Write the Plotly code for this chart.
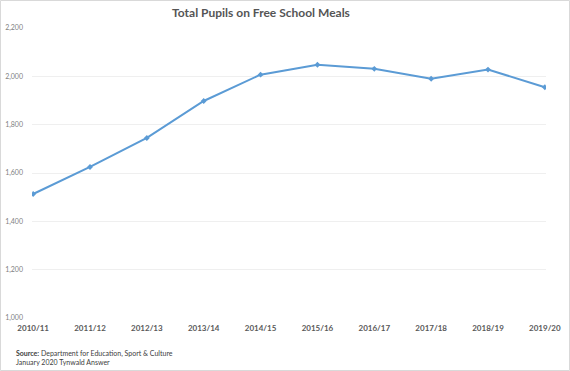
import plotly.graph_objects as go

years = ["2010/11", "2011/12", "2012/13", "2013/14", "2014/15",
         "2015/16", "2016/17", "2017/18", "2018/19", "2019/20"]
pupils = [1513, 1625, 1745, 1898, 2007, 2048, 2031, 1990, 2028, 1955]
y_ticks = [1000, 1200, 1400, 1600, 1800, 2000, 2200]
y_tick_labels = ["1,000", "1,200", "1,400", "1,600", "1,800", "2,000", "2,200"]

W, H = 570, 371
L, R, T, B = 32, 24, 28, 53
pw, ph = W - L - R, H - T - B

fig = go.Figure()
fig.add_trace(go.Scatter(
    x=list(range(len(years))), y=pupils, mode="lines+markers",
    line=dict(color="#5b9bd5", width=2),
    marker=dict(symbol="diamond", size=4.5, color="#5b9bd5"),
    hoverinfo="skip", showlegend=False,
))

fig.update_layout(
    width=W, height=H,
    margin=dict(l=L, r=R, t=T, b=B, autoexpand=False),
    paper_bgcolor="white", plot_bgcolor="white",
    font=dict(family="Lato, sans-serif", color="#595959"),
    title=dict(text="<b>Total Pupils on Free School Meals</b>",
               x=261 / W, xanchor="center", y=1 - 13 / H, yanchor="middle",
               font=dict(size=12, color="#555555", family="Lato, sans-serif")),
    xaxis=dict(
        range=[-0.02, 9.02], tickmode="array",
        tickvals=list(range(len(years))),
        ticktext=["<b>%s</b>" % y for y in years],
        tickfont=dict(size=8, color="#595959"),
        showgrid=False, zeroline=False, showline=False, ticks="",
        ticklabelstandoff=4, automargin=False,
    ),
    yaxis=dict(
        range=[1000, 2200], tickmode="array", tickvals=y_ticks,
        ticktext=y_tick_labels,
        tickfont=dict(size=7, color="#7f7f7f"),
        showgrid=True, gridcolor="#efefef", gridwidth=1,
        zeroline=False, showline=False, ticks="",
        ticklabelstandoff=8, automargin=False,
    ),
    shapes=[dict(
        type="rect", xref="paper", yref="paper",
        x0=(0.5 - L) / pw, x1=(W - 0.5 - L) / pw,
        y0=-(B - 0.5) / ph, y1=1 + (T - 0.5) / ph,
        line=dict(color="#d9d9d9", width=1), fillcolor="rgba(0,0,0,0)",
        layer="below",
    )],
    annotations=[dict(
        xref="paper", yref="paper",
        x=(14 - L) / pw, y=-(357 - T - ph) / ph,
        xanchor="left", yanchor="middle", align="left", showarrow=False,
        text="<b>Source:</b> Department for Education, Sport & Culture<br>January 2020 Tynwald Answer",
        font=dict(size=7, color="#404040"),
    )],
)

fig.write_html("out.html", config={"displayModeBar": False, "staticPlot": True},
               post_script="document.body.style.margin='0';document.body.style.overflow='hidden';")
